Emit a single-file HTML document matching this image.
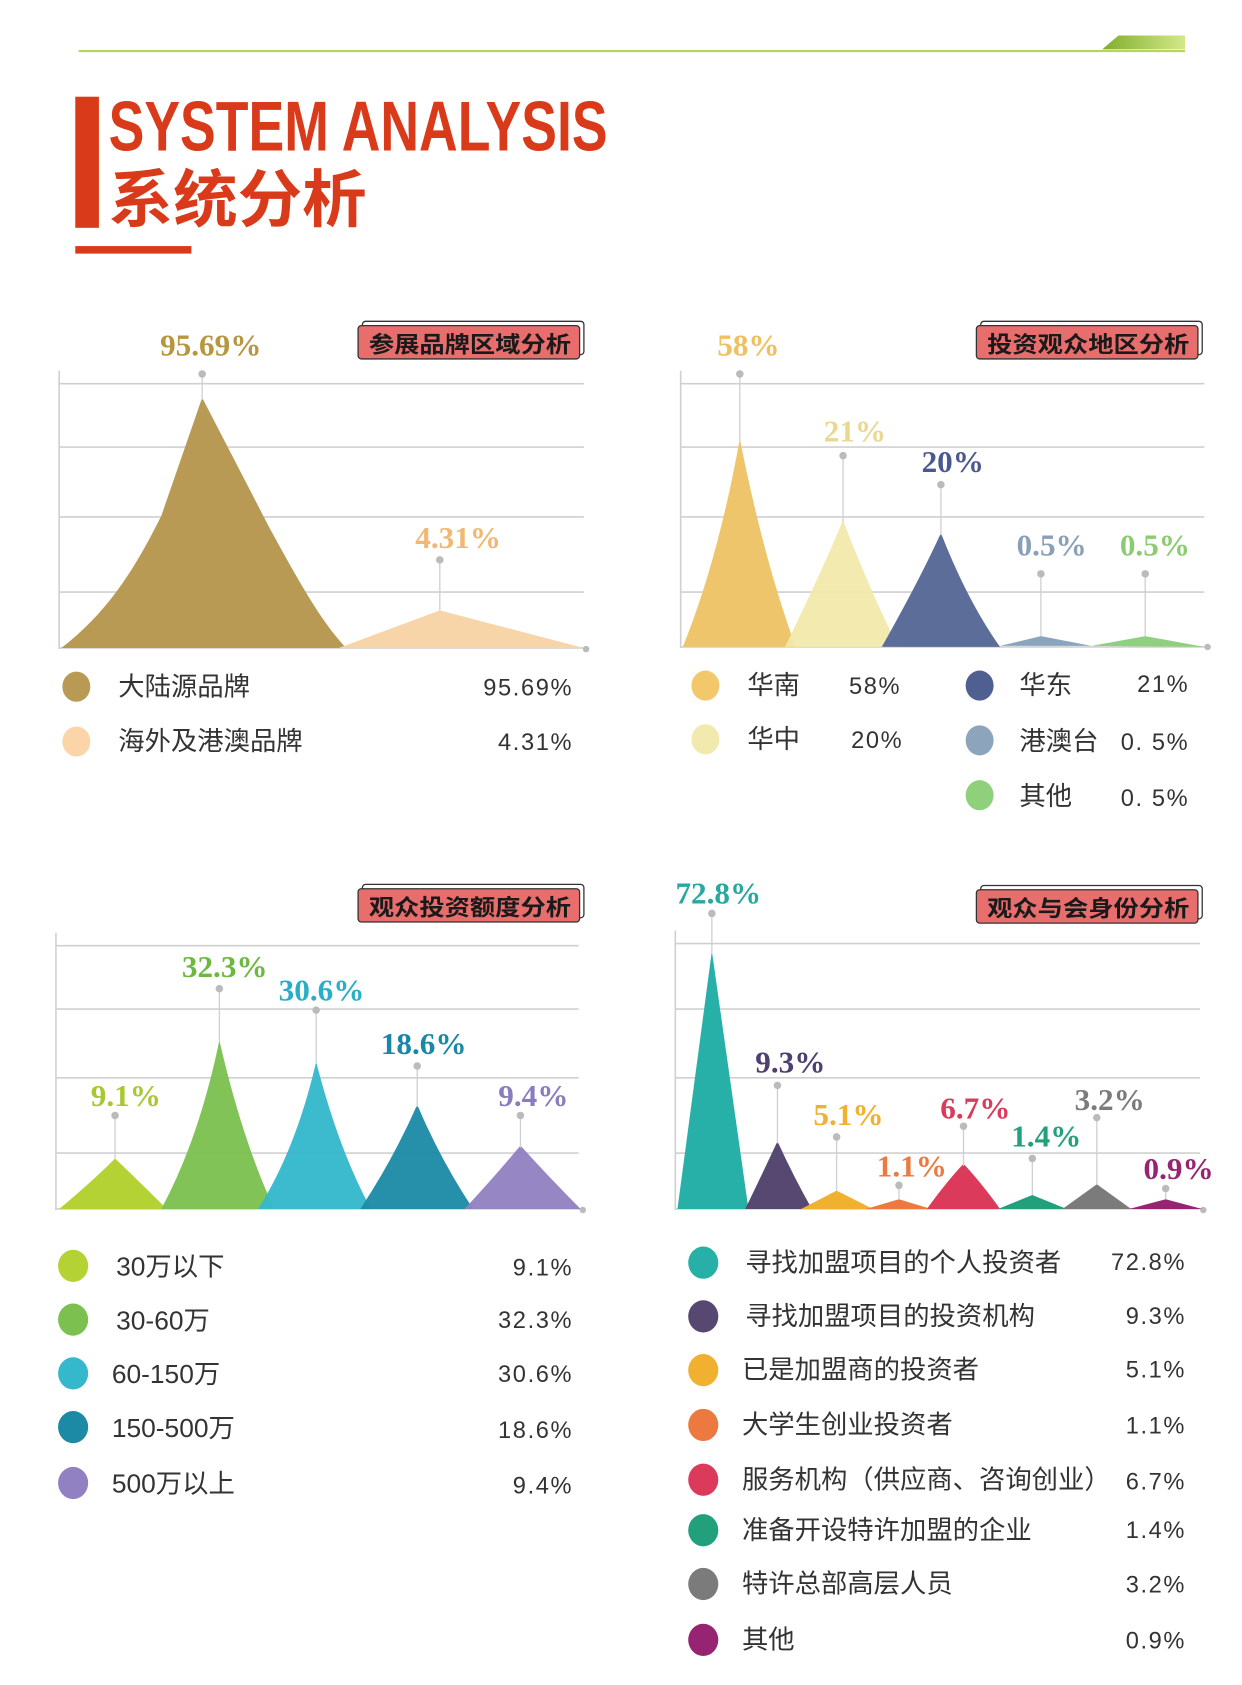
<!DOCTYPE html>
<html><head><meta charset="utf-8"><style>
html,body{margin:0;padding:0;background:#fff;}
svg{display:block;}
.pl{font-family:"Liberation Serif",serif;font-weight:bold;font-size:29px;text-anchor:middle;}
.lg{font-family:"Liberation Sans","Noto Sans CJK SC",sans-serif;font-size:24.5px;fill:#333;}
.vl{font-family:"Liberation Sans",sans-serif;font-size:22px;fill:#333;text-anchor:end;letter-spacing:1.5px;}
.bd{font-family:"Liberation Sans","Noto Sans CJK SC",sans-serif;font-size:21px;font-weight:bold;fill:#1a1a1a;}
.g{stroke:#d0d0d0;stroke-width:1.5;}
.st{stroke:#cfcfcf;stroke-width:1.2;}
</style></head><body>
<svg width="1242" height="1685" viewBox="0 0 1155 1568" preserveAspectRatio="none" xmlns="http://www.w3.org/2000/svg">
<defs><linearGradient id="gg" x1="0" x2="1"><stop offset="0" stop-color="#7fae2e"/><stop offset="1" stop-color="#d4e88a"/></linearGradient></defs>
<line x1="73" y1="47.5" x2="1102" y2="47.5" stroke="#b8d35e" stroke-width="2"/>
<polygon points="1025,46 1040,33 1102,33 1102,46" fill="url(#gg)"/>
<rect x="70" y="90" width="22" height="122" fill="#d93a1a"/>
<rect x="70" y="229" width="108" height="7" fill="#d93a1a"/>
<text x="101" y="140" font-family="Liberation Sans,sans-serif" font-weight="bold" font-size="66" fill="#d93a1a" textLength="464" lengthAdjust="spacingAndGlyphs">SYSTEM ANALYSIS</text>
<text x="101" y="206" font-family="Liberation Sans,Noto Sans CJK SC,sans-serif" font-weight="bold" font-size="58" fill="#d93a1a" textLength="240" lengthAdjust="spacingAndGlyphs">系统分析</text>

<g>
<rect x="337" y="299" width="206" height="31" rx="3" fill="#fff" stroke="#333" stroke-width="1.2"/>
<rect x="333" y="303" width="206" height="31" rx="3" fill="#e86d6d" stroke="#333" stroke-width="1.2"/>
<text x="343" y="328" class="bd" textLength="188" lengthAdjust="spacingAndGlyphs">参展品牌区域分析</text>
<rect x="912" y="299" width="206" height="31" rx="3" fill="#fff" stroke="#333" stroke-width="1.2"/>
<rect x="908" y="303" width="206" height="31" rx="3" fill="#e86d6d" stroke="#333" stroke-width="1.2"/>
<text x="918" y="328" class="bd" textLength="188" lengthAdjust="spacingAndGlyphs">投资观众地区分析</text>
<rect x="337" y="823" width="206" height="31" rx="3" fill="#fff" stroke="#333" stroke-width="1.2"/>
<rect x="333" y="827" width="206" height="31" rx="3" fill="#e86d6d" stroke="#333" stroke-width="1.2"/>
<text x="343" y="852" class="bd" textLength="188" lengthAdjust="spacingAndGlyphs">观众投资额度分析</text>
<rect x="912" y="824" width="206" height="31" rx="3" fill="#fff" stroke="#333" stroke-width="1.2"/>
<rect x="908" y="828" width="206" height="31" rx="3" fill="#e86d6d" stroke="#333" stroke-width="1.2"/>
<text x="918" y="853" class="bd" textLength="188" lengthAdjust="spacingAndGlyphs">观众与会身份分析</text>
</g>

<line x1="55" y1="345" x2="55" y2="604" class="g"/>
<line x1="55" y1="357" x2="543" y2="357" class="g"/>
<line x1="55" y1="416" x2="543" y2="416" class="g"/>
<line x1="55" y1="481" x2="543" y2="481" class="g"/>
<line x1="55" y1="551" x2="543" y2="551" class="g"/>
<line x1="55" y1="603" x2="545" y2="603" class="g"/>
<circle cx="545" cy="604" r="3" fill="#bbb"/>
<path d="M57,603 C100,570 125,530 150,480 L188,370 L250,490 C280,545 300,580 322,603 Z" fill="#b89a55"/>
<path d="M315,603 L409,568 L543,603 Z" fill="#f8d5a8"/>
<line x1="188" y1="348" x2="188" y2="372" class="st"/><circle cx="188" cy="348" r="3.5" fill="#bbb"/>
<line x1="409" y1="521" x2="409" y2="568" class="st"/><circle cx="409" cy="521" r="3.5" fill="#bbb"/>
<text x="196" y="331" class="pl" fill="#b8963f">95.69%</text>
<text x="426" y="510" class="pl" fill="#f0b870">4.31%</text>
<ellipse cx="71" cy="639" rx="13" ry="14" fill="#b89a55"/>
<text x="110" y="647" class="lg">大陆源品牌</text><text x="533" y="647" class="vl">95.69%</text>
<ellipse cx="71" cy="690" rx="13" ry="14" fill="#fbd5a8"/>
<text x="110" y="698" class="lg">海外及港澳品牌</text><text x="533" y="698" class="vl">4.31%</text>

<line x1="633" y1="345" x2="633" y2="603" class="g"/>
<line x1="633" y1="357" x2="1120" y2="357" class="g"/>
<line x1="633" y1="416" x2="1120" y2="416" class="g"/>
<line x1="633" y1="481" x2="1120" y2="481" class="g"/>
<line x1="633" y1="551" x2="1120" y2="551" class="g"/>
<line x1="633" y1="602" x2="1122" y2="602" class="g"/>
<circle cx="1123" cy="602" r="3" fill="#bbb"/>
<path d="M635,602 Q668,520 688,408 Q710,520 740,602 Z" fill="#efc56b"/>
<path d="M730,602 Q765,530 784,484 Q805,540 835,602 Z" fill="#f1e9aa" opacity="0.95"/>
<path d="M820,602 Q855,540 875,496 Q900,560 930,602 Z" fill="#5d6d9a"/>
<path d="M930,601 L968,592 L1015,601 Z" fill="#8ba4bd"/>
<path d="M1015,601 L1065,592 L1120,602 Z" fill="#8fd080"/>
<line x1="688" y1="348" x2="688" y2="410" class="st"/><circle cx="688" cy="348" r="3.5" fill="#bbb"/>
<line x1="784" y1="424" x2="784" y2="486" class="st"/><circle cx="784" cy="424" r="3.5" fill="#bbb"/>
<line x1="875" y1="451" x2="875" y2="498" class="st"/><circle cx="875" cy="451" r="3.5" fill="#bbb"/>
<line x1="968" y1="534" x2="968" y2="592" class="st"/><circle cx="968" cy="534" r="3.5" fill="#bbb"/>
<line x1="1065" y1="534" x2="1065" y2="592" class="st"/><circle cx="1065" cy="534" r="3.5" fill="#bbb"/>
<text x="696" y="331" class="pl" fill="#f0c060">58%</text>
<text x="795" y="411" class="pl" fill="#e8d890">21%</text>
<text x="886" y="439" class="pl" fill="#4b5a8e">20%</text>
<text x="978" y="517" class="pl" fill="#8aa0b8">0.5%</text>
<text x="1074" y="517" class="pl" fill="#8ccc70">0.5%</text>
<ellipse cx="656" cy="638" rx="13" ry="14" fill="#f2c86a"/>
<text x="695" y="646" class="lg">华南</text><text x="838" y="646" class="vl">58%</text>
<ellipse cx="656" cy="688" rx="13" ry="14" fill="#f2e9ae"/>
<text x="695" y="696" class="lg">华中</text><text x="840" y="696" class="vl">20%</text>
<ellipse cx="911" cy="638" rx="13" ry="14" fill="#4f5f92"/>
<text x="948" y="646" class="lg">华东</text><text x="1106" y="644" class="vl">21%</text>
<ellipse cx="911" cy="689" rx="13" ry="14" fill="#8ca5bc"/>
<text x="948" y="698" class="lg">港澳台</text><text x="1106" y="698" class="vl">0. 5%</text>
<ellipse cx="911" cy="740" rx="13" ry="14" fill="#8fd07a"/>
<text x="948" y="749" class="lg">其他</text><text x="1106" y="750" class="vl">0. 5%</text>

<line x1="52" y1="868" x2="52" y2="1126" class="g"/>
<line x1="52" y1="880" x2="538" y2="880" class="g"/>
<line x1="52" y1="939" x2="538" y2="939" class="g"/>
<line x1="52" y1="1003" x2="538" y2="1003" class="g"/>
<line x1="52" y1="1073" x2="538" y2="1073" class="g"/>
<line x1="52" y1="1125" x2="541" y2="1125" class="g"/>
<circle cx="542" cy="1126" r="3" fill="#bbb"/>
<path d="M55,1125 Q85,1100 107,1078 Q130,1100 155,1125 Z" fill="#b5d235"/>
<path d="M150,1125 Q185,1060 204,968 Q225,1060 255,1125 Z" fill="#7cc150" opacity="0.96"/>
<path d="M240,1125 Q275,1070 294,988 Q315,1070 345,1125 Z" fill="#35b8cc" opacity="0.96"/>
<path d="M335,1125 Q365,1080 388,1028 Q410,1080 440,1125 Z" fill="#1d8aa5" opacity="0.96"/>
<path d="M432,1125 Q460,1095 484,1066 Q510,1095 540,1125 Z" fill="#9281c2" opacity="0.96"/>
<line x1="107" y1="1038" x2="107" y2="1078" class="st"/><circle cx="107" cy="1038" r="3.5" fill="#bbb"/>
<line x1="204" y1="920" x2="204" y2="970" class="st"/><circle cx="204" cy="920" r="3.5" fill="#bbb"/>
<line x1="294" y1="940" x2="294" y2="990" class="st"/><circle cx="294" cy="940" r="3.5" fill="#bbb"/>
<line x1="388" y1="992" x2="388" y2="1030" class="st"/><circle cx="388" cy="992" r="3.5" fill="#bbb"/>
<line x1="484" y1="1038" x2="484" y2="1068" class="st"/><circle cx="484" cy="1038" r="3.5" fill="#bbb"/>
<text x="117" y="1029" class="pl" fill="#a8c832">9.1%</text>
<text x="209" y="909" class="pl" fill="#6cb840">32.3%</text>
<text x="299" y="931" class="pl" fill="#2aaec8">30.6%</text>
<text x="394" y="981" class="pl" fill="#1a87a8">18.6%</text>
<text x="496" y="1029" class="pl" fill="#8b7bbf">9.4%</text>
<ellipse cx="68" cy="1178" rx="14" ry="15" fill="#b5d235"/>
<text x="108" y="1187" class="lg">30万以下</text><text x="533" y="1187" class="vl">9.1%</text>
<ellipse cx="68" cy="1228" rx="14" ry="15" fill="#7cc150"/>
<text x="108" y="1237" class="lg">30-60万</text><text x="533" y="1236" class="vl">32.3%</text>
<ellipse cx="68" cy="1278" rx="14" ry="15" fill="#35b8cc"/>
<text x="104" y="1287" class="lg">60-150万</text><text x="533" y="1286" class="vl">30.6%</text>
<ellipse cx="68" cy="1328" rx="14" ry="15" fill="#1d8aa5"/>
<text x="104" y="1337" class="lg">150-500万</text><text x="533" y="1338" class="vl">18.6%</text>
<ellipse cx="68" cy="1380" rx="14" ry="15" fill="#9281c2"/>
<text x="104" y="1389" class="lg">500万以上</text><text x="533" y="1390" class="vl">9.4%</text>

<line x1="628" y1="866" x2="628" y2="1126" class="g"/>
<line x1="628" y1="878" x2="1116" y2="878" class="g"/>
<line x1="628" y1="939" x2="1116" y2="939" class="g"/>
<line x1="628" y1="1003" x2="1116" y2="1003" class="g"/>
<line x1="628" y1="1073" x2="1116" y2="1073" class="g"/>
<line x1="628" y1="1125" x2="1118" y2="1125" class="g"/>
<circle cx="1119" cy="1126" r="3" fill="#bbb"/>
<path d="M630,1125 L662,885 L696,1125 Z" fill="#27b0a8"/>
<path d="M693,1125 Q710,1090 723,1062 Q738,1095 755,1125 Z" fill="#574872"/>
<path d="M745,1125 L778,1108 L812,1125 Z" fill="#f0b030"/>
<path d="M805,1125 L836,1116 L866,1125 Z" fill="#ec7a40"/>
<path d="M862,1125 Q880,1100 896,1083 Q912,1100 930,1125 Z" fill="#dc3a5a"/>
<path d="M928,1125 L960,1112 L992,1125 Z" fill="#22a07c"/>
<path d="M988,1125 L1020,1102 L1052,1125 Z" fill="#7b7b7b"/>
<path d="M1050,1125 L1084,1116 L1118,1125 Z" fill="#962472"/>
<line x1="662" y1="850" x2="662" y2="887" class="st"/><circle cx="662" cy="850" r="3.5" fill="#bbb"/>
<line x1="723" y1="1010" x2="723" y2="1064" class="st"/><circle cx="723" cy="1010" r="3.5" fill="#bbb"/>
<line x1="778" y1="1058" x2="778" y2="1108" class="st"/><circle cx="778" cy="1058" r="3.5" fill="#bbb"/>
<line x1="836" y1="1103" x2="836" y2="1116" class="st"/><circle cx="836" cy="1103" r="3.5" fill="#bbb"/>
<line x1="896" y1="1048" x2="896" y2="1085" class="st"/><circle cx="896" cy="1048" r="3.5" fill="#bbb"/>
<line x1="960" y1="1078" x2="960" y2="1112" class="st"/><circle cx="960" cy="1078" r="3.5" fill="#bbb"/>
<line x1="1020" y1="1040" x2="1020" y2="1102" class="st"/><circle cx="1020" cy="1040" r="3.5" fill="#bbb"/>
<line x1="1084" y1="1106" x2="1084" y2="1116" class="st"/><circle cx="1084" cy="1106" r="3.5" fill="#bbb"/>
<text x="668" y="841" class="pl" fill="#2aa8a0">72.8%</text>
<text x="735" y="998" class="pl" fill="#4f3f70">9.3%</text>
<text x="789" y="1047" class="pl" fill="#f0b030">5.1%</text>
<text x="848" y="1095" class="pl" fill="#ec7a40">1.1%</text>
<text x="907" y="1041" class="pl" fill="#dc3a5a">6.7%</text>
<text x="973" y="1067" class="pl" fill="#22a07c">1.4%</text>
<text x="1032" y="1033" class="pl" fill="#7b7b7b">3.2%</text>
<text x="1096" y="1097" class="pl" fill="#962472">0.9%</text>
<ellipse cx="654" cy="1175" rx="14" ry="15" fill="#27b0a8"/>
<text x="693" y="1183" class="lg">寻找加盟项目的个人投资者</text><text x="1103" y="1182" class="vl">72.8%</text>
<ellipse cx="654" cy="1225" rx="14" ry="15" fill="#574872"/>
<text x="693" y="1233" class="lg">寻找加盟项目的投资机构</text><text x="1103" y="1232" class="vl">9.3%</text>
<ellipse cx="654" cy="1275" rx="14" ry="15" fill="#f0b030"/>
<text x="690" y="1283" class="lg">已是加盟商的投资者</text><text x="1103" y="1282" class="vl">5.1%</text>
<ellipse cx="654" cy="1326" rx="14" ry="15" fill="#ec7a40"/>
<text x="690" y="1334" class="lg">大学生创业投资者</text><text x="1103" y="1334" class="vl">1.1%</text>
<ellipse cx="654" cy="1377" rx="14" ry="15" fill="#dc3a5a"/>
<text x="690" y="1385" class="lg">服务机构（供应商、咨询创业）</text><text x="1103" y="1386" class="vl">6.7%</text>
<ellipse cx="654" cy="1424" rx="14" ry="15" fill="#22a07c"/>
<text x="690" y="1432" class="lg">准备开设特许加盟的企业</text><text x="1103" y="1431" class="vl">1.4%</text>
<ellipse cx="654" cy="1474" rx="14" ry="15" fill="#7b7b7b"/>
<text x="690" y="1482" class="lg">特许总部高层人员</text><text x="1103" y="1482" class="vl">3.2%</text>
<ellipse cx="654" cy="1526" rx="14" ry="15" fill="#962472"/>
<text x="690" y="1534" class="lg">其他</text><text x="1103" y="1534" class="vl">0.9%</text>
</svg>
</body></html>
